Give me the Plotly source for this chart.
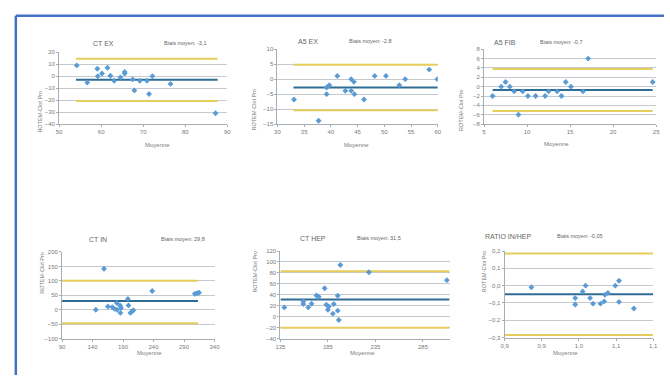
import plotly.graph_objects as go

W, H = 670, 378

# ---- data: Bland-Altman comparisons ROTEM vs ClotPro ----
titles = ["CT EX", "A5 EX", "A5 FIB", "CT IN", "CT HEP", "RATIO IN/HEP"]
bias = [-3.1, -2.8, -0.7, 29.8, 31.5, -0.05]
bias_text = ["-3,1", "-2,8", "-0,7", "29,8", "31,5", "-0,05"]
loa_upper = [14.6, 4.8, 3.8, 100.0, 83.2, 0.185]
loa_lower = [-20.8, -10.4, -5.2, -47.0, -20.2, -0.285]
line_span = [(54.0, 87.7), (33.0, 60.0), (6.0, 24.6), (90.0, 313.0), (135.0, 313.0), (0.9, 1.1)]

ct_ex_mean = [54.2, 56.7, 59.1, 59.2, 60.2, 61.5, 62.2, 63.1, 64.6, 65.6, 65.6, 67.5, 67.9, 69.2, 70.9, 71.4, 72.2, 76.5, 87.2]
ct_ex_diff = [9.0, -5.4, 6.2, 0.0, 2.2, 7.0, 0.3, -3.8, -1.0, 2.2, 3.5, -2.7, -11.9, -3.8, -3.8, -14.9, 0.0, -6.5, -31.0]

a5_ex_mean = [33.1, 37.7, 39.2, 39.2, 39.7, 41.2, 42.7, 43.8, 43.8, 44.3, 44.4, 46.2, 48.2, 50.3, 52.8, 53.9, 58.4, 59.9]
a5_ex_diff = [-6.8, -13.9, -2.8, -5.0, -2.0, 1.1, -3.9, 0.0, -3.9, -0.9, -5.0, -6.8, 1.1, 1.1, -2.0, 0.0, 3.2, 0.0]

a5_fib_mean = [6.0, 7.0, 7.5, 8.0, 8.5, 9.0, 9.5, 10.1, 11.0, 12.1, 12.5, 13.5, 14.0, 14.5, 15.1, 16.5, 17.1, 24.6]
a5_fib_diff = [-2, 0, 1, 0, -1, -6, -1, -2, -2, -2, -1, -1, -2, 1, 0, -1, 6, 1]

ct_in_mean = [145.4, 158.8, 165.3, 172.3, 176.0, 179.8, 180.3, 185.2, 185.7, 186.8, 198.0, 199.0, 202.0, 204.5, 207.0, 237.8, 307.7, 311.5, 314.7]
ct_in_diff = [0, 142, 11, 9, 3, 23, 0, 15, -11, 6, 37.5, 15, -11, -6, -2, 65, 55, 57, 59]

ct_hep_mean = [139.1, 159.1, 159.1, 164.3, 167.8, 172.9, 175.3, 181.6, 183.3, 185.0, 186.0, 190.2, 191.2, 195.3, 195.3, 196.4, 198.1, 228.1, 310.2]
ct_hep_diff = [17, 27.9, 23, 17, 23.6, 38.8, 36.4, 52, 21.8, 12.7, 18.8, 5.5, 23, 38.2, 11, -6, 94.5, 81.2, 66.7]

ratio_mean = [0.936, 0.995, 0.995, 1.005, 1.009, 1.015, 1.019, 1.029, 1.034, 1.035, 1.039, 1.049, 1.054, 1.054, 1.074]
ratio_diff = [-0.009, -0.072, -0.109, -0.034, 0.0, -0.072, -0.104, -0.104, -0.091, -0.053, -0.042, 0.0, 0.028, -0.094, -0.132]

means = [ct_ex_mean, a5_ex_mean, a5_fib_mean, ct_in_mean, ct_hep_mean, ratio_mean]
diffs = [ct_ex_diff, a5_ex_diff, a5_fib_diff, ct_in_diff, ct_hep_diff, ratio_diff]

x_ranges = [(50, 90), (30, 60), (5, 25), (90, 340), (135, 313), (0.9, 1.1)]
x_tick0 = [50, 30, 5, 90, 135, 0.9]
x_dtick = [10, 5, 5, 50, 50, 0.05]
y_ranges = [(-40, 20), (-15, 10), (-8, 8), (-100, 200), (-40, 120), (-0.3, 0.2)]
y_dtick = [10, 5, 2, 50, 20, 0.1]

# ---- layout geometry (pixels) ----
# plot area: left, right, top, bottom
boxes = [
    (55, 226, 50, 123),
    (277, 440, 47, 123),
    (487, 662, 47, 123),
    (58, 213, 253, 341),
    (280, 452, 252, 341),
    (508, 659, 252, 340),
]
title_pos = [(87, 36), (308, 34), (522, 35), (83, 240), (313, 239), (537, 237)]
bias_pos = [(160, 36), (372, 34), (590, 35), (157, 240), (380, 239), (610, 237)]
xlab_pos = [(140, 144), (357, 144), (575, 143), (132, 361), (363, 361), (585, 361)]
ylab_x = [31, 253, 468, 33, 254, 492]

GRID = "#c4c8cf"
AXIS = "#a8acb3"
TXT = "#7a7a7a"
PT = "#5a9bd5"
BIAS = "#2f6d94"
LOA = "#e6cd5c"
FONT = "Liberation Sans"

fig = go.Figure()
annotations = []

for i in range(6):
    xa = "x" if i == 0 else f"x{i+1}"
    ya = "y" if i == 0 else f"y{i+1}"
    x0, x1 = line_span[i]
    # limits of agreement and mean bias
    for val, col, w in ((loa_upper[i], LOA, 2), (loa_lower[i], LOA, 2), (bias[i], BIAS, 2)):
        fig.add_trace(go.Scatter(x=[x0, x1], y=[val, val], mode="lines",
                                 line=dict(color=col, width=w), xaxis=xa, yaxis=ya,
                                 hoverinfo="skip", showlegend=False))
    fig.add_trace(go.Scatter(x=means[i], y=diffs[i], mode="markers",
                             marker=dict(symbol="diamond", size=4.5, color=PT),
                             xaxis=xa, yaxis=ya, showlegend=False))

    l, r, t, b = boxes[i]
    xdom = [l / W, r / W]
    ydom = [1 - b / H, 1 - t / H]
    tickfmt = ".1f" if i == 5 else None
    xkey = "xaxis" if i == 0 else f"xaxis{i+1}"
    ykey = "yaxis" if i == 0 else f"yaxis{i+1}"
    fig.update_layout(**{
        xkey: dict(domain=xdom, range=list(x_ranges[i]), tick0=x_tick0[i], dtick=x_dtick[i],
                   anchor=ya, showgrid=False, zeroline=False, showline=True,
                   linecolor=AXIS, linewidth=1, ticks="outside", ticklen=2, tickcolor=AXIS,
                   tickfont=dict(size=6, color=TXT, family=FONT), tickformat=tickfmt),
        ykey: dict(domain=ydom, range=list(y_ranges[i]), dtick=y_dtick[i],
                   anchor=xa, showgrid=True, gridcolor=GRID, gridwidth=1, zeroline=False,
                   showline=True, linecolor=AXIS, linewidth=1, ticks="outside", ticklen=2,
                   tickcolor=AXIS, tickfont=dict(size=6, color=TXT, family=FONT),
                   tickformat=tickfmt),
    })
    annotations.append(dict(x=title_pos[i][0] / W, y=1 - title_pos[i][1] / H, xref="paper", yref="paper",
                            text=titles[i], showarrow=False, font=dict(size=7, color="#666", family=FONT)))
    annotations.append(dict(x=bias_pos[i][0] / W, y=1 - bias_pos[i][1] / H, xref="paper", yref="paper",
                            text=f"Biais moyen: {bias_text[i]}", showarrow=False,
                            font=dict(size=5.5, color="#666", family=FONT)))
    annotations.append(dict(x=xlab_pos[i][0] / W, y=1 - xlab_pos[i][1] / H, xref="paper", yref="paper",
                            text="Moyenne", showarrow=False, font=dict(size=6, color=TXT, family=FONT)))
    annotations.append(dict(x=ylab_x[i] / W, y=1 - (t + b) / 2 / H, xref="paper", yref="paper",
                            text="ROTEM-Clot Pro", textangle=-90, showarrow=False,
                            font=dict(size=5.5, color=TXT, family=FONT)))

# blue frame along the top and left edges
shapes = [
    dict(type="line", xref="paper", yref="paper", x0=11 / W, x1=1, y0=1 - 13 / H, y1=1 - 13 / H,
         line=dict(color="#4472c4", width=2.5)),
    dict(type="line", xref="paper", yref="paper", x0=11 / W, x1=11 / W, y0=0, y1=1 - 13 / H,
         line=dict(color="#4472c4", width=2.5)),
]

fig.update_layout(width=W, height=H, margin=dict(l=0, r=0, t=0, b=0),
                  paper_bgcolor="white", plot_bgcolor="white", separators=", ",
                  annotations=annotations, shapes=shapes, showlegend=False)

fig.write_html("out.html")
